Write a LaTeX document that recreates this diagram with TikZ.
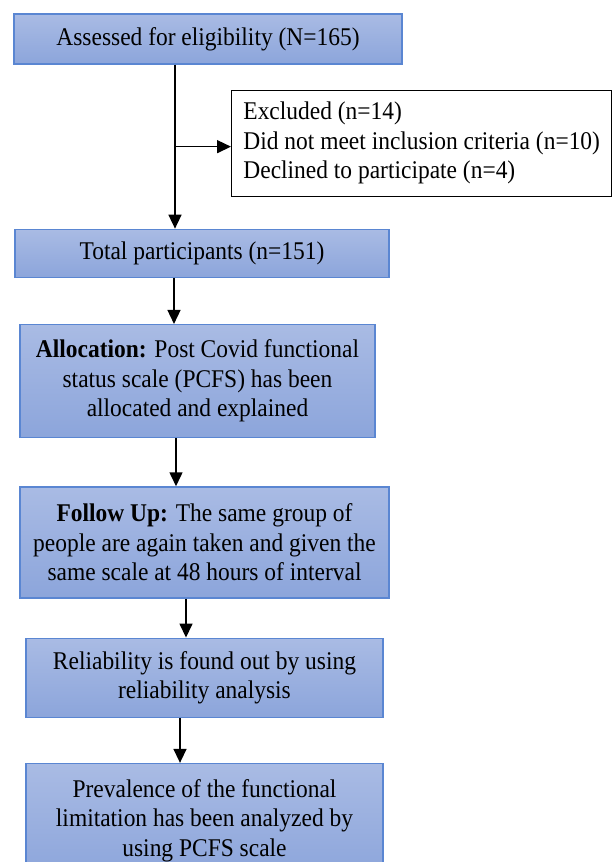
\documentclass[tikz,border=0pt]{standalone}
\usepackage{fontspec}
\setmainfont[FakeStretch=0.92]{Liberation Serif}
\usetikzlibrary{positioning,arrows.meta}
\definecolor{boxtop}{HTML}{A9BBE4}
\definecolor{boxbot}{HTML}{8CA5DB}
\definecolor{boxline}{HTML}{5A86D2}

\begin{document}
\begin{tikzpicture}[x=1pt, y=1pt, node distance=46pt]
  \tikzstyle{box}=[rectangle, draw=boxline, line width=1.3pt, top color=boxtop, bottom color=boxbot, align=center, inner sep=4pt, font=\fontsize{25.5}{29.5}\selectfont]
  \tikzstyle{note}=[rectangle, draw=black, line width=1.4pt, fill=white, align=left, inner sep=3pt, font=\fontsize{25.5}{29.5}\selectfont]
  \tikzstyle{arr}=[-{Triangle[length=14pt, width=13pt]}, line width=1.5pt]
  \useasboundingbox (0,0) rectangle (613,-862);
  \node[box, minimum width=388pt, minimum height=50pt] (elig) at (208,-39) {Assessed for eligibility (N=165)};
  \node[note, anchor=north west, minimum width=380pt, minimum height=106pt] (excl) at ([shift={(23pt,-25pt)}]elig.south) {Excluded (n=14)\\Did not meet inclusion criteria (n=10)\\Declined to participate (n=4)};
  \node[box, below=164pt of elig, xshift=-6pt, minimum width=374pt, minimum height=48pt] (total) {Total participants (n=151)};
  \node[box, below=of total, xshift=-4.5pt, minimum width=355pt, minimum height=113pt] (alloc) {\textbf{Allocation:} Post Covid functional\\status scale (PCFS) has been\\allocated and explained};
  \node[box, below=48pt of alloc, xshift=7pt, minimum width=369pt, minimum height=111pt] (follow) {\textbf{Follow Up:} The same group of\\people are again taken and given the\\same scale at 48 hours of interval};
  \node[box, below=39pt of follow, minimum width=357pt, minimum height=79pt] (relia) {Reliability is found out by using\\reliability analysis};
  \node[box, below=45pt of relia, minimum width=357pt, minimum height=114pt] (preval) {Prevalence of the functional\\limitation has been analyzed by\\using PCFS scale};
  % connectors
  \coordinate (split) at ([xshift=-33pt, yshift=-82pt]elig.south);
  \draw[arr] ([xshift=-33pt]elig.south) -- ([xshift=-33pt]elig.south |- total.north);
  \draw[arr] (split) -- (split -| excl.west);
  \draw[arr] ([xshift=-28pt]total.south) -- ([xshift=-28pt]total.south |- alloc.north);
  \draw[arr] ([xshift=-21.5pt]alloc.south) -- ([xshift=-21.5pt]alloc.south |- follow.north);
  \draw[arr] ([xshift=-18.5pt]follow.south) -- ([xshift=-18.5pt]follow.south |- relia.north);
  \draw[arr] ([xshift=-24.5pt]relia.south) -- ([xshift=-24.5pt]relia.south |- preval.north);
\end{tikzpicture}
\end{document}
